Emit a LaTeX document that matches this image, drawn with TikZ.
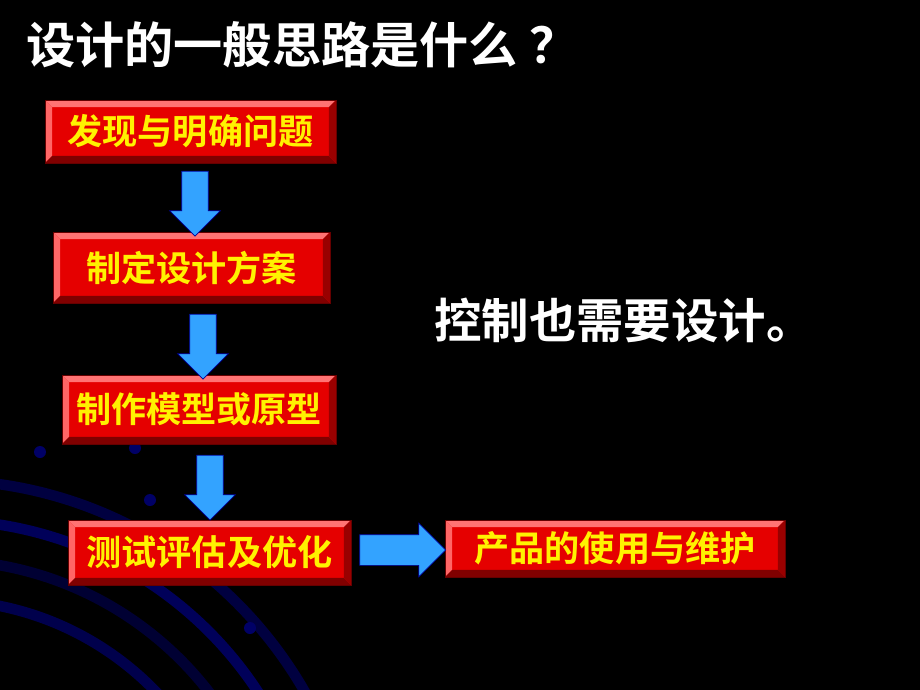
\documentclass[tikz,border=0pt]{standalone}
\usepackage{fontspec}
\newfontfamily\cjk{Noto Sans CJK SC}[BoldFont={Noto Sans CJK SC Bold}]
\usetikzlibrary{shapes.arrows, positioning}

\begin{document}
\begin{tikzpicture}[x=0.02cm, y=-0.02cm]
        \tikzset{
            bevelbox/.style = {rectangle, fill=red!90!black, draw=red!40!black, text=yellow,
                font=\cjk\bfseries\fontsize{20}{24}\selectfont, inner sep=0pt,
                path picture={
                    \fill[red!55!white] (path picture bounding box.north west) -- (path picture bounding box.north east)
                        -- ([shift={(-4pt,-4pt)}]path picture bounding box.north east) -- ([shift={(4pt,-4pt)}]path picture bounding box.north west) -- cycle;
                    \fill[red!60!white] (path picture bounding box.north west) -- (path picture bounding box.south west)
                        -- ([shift={(4pt,4pt)}]path picture bounding box.south west) -- ([shift={(4pt,-4pt)}]path picture bounding box.north west) -- cycle;
                    \fill[red!50!black] (path picture bounding box.south west) -- (path picture bounding box.south east)
                        -- ([shift={(-4pt,4pt)}]path picture bounding box.south east) -- ([shift={(4pt,4pt)}]path picture bounding box.south west) -- cycle;
                    \fill[red!60!black] (path picture bounding box.north east) -- (path picture bounding box.south east)
                        -- ([shift={(-4pt,4pt)}]path picture bounding box.south east) -- ([shift={(-4pt,-4pt)}]path picture bounding box.north east) -- cycle;
                }},
            flow/.style = {single arrow, fill=blue!45!cyan!80!white, draw=blue!60!black,
                single arrow head extend=0.24cm, inner xsep=0pt, inner ysep=0.26cm, single arrow head indent=0pt}
        }
        \fill[black] (0,0) rectangle (920,690);
        \useasboundingbox (0,0) rectangle (920,690);

        % background arcs
        \foreach \r/\c in {420/blue!25!black, 380/blue!35!black, 340/blue!20!black, 300/blue!30!black}
            \draw[\c, line width=6pt] (-60,900) circle[radius=\r];
        \foreach \p in {(40,452), (135,448), (150,500), (95,560), (250,628)}
            \fill[blue!40!black] \p circle[radius=6];

        \node[anchor=west, text=white, font=\cjk\bfseries\fontsize{28}{32}\selectfont] (title) at (20,45) {设计的一般思路是什么 ？};

        \node[bevelbox, minimum width=291*0.02cm, minimum height=63*0.02cm] (find) at (190.5,131.5) {发现与明确问题};
        \node[bevelbox, minimum width=277*0.02cm, minimum height=71*0.02cm] (plan) at (191.5,267.5) {制定设计方案};
        \node[bevelbox, minimum width=274*0.02cm, minimum height=69*0.02cm] (make) at (199,409.5) {制作模型或原型};
        \node[bevelbox, minimum width=283*0.02cm, minimum height=65*0.02cm] (test) at (209.5,552.5) {测试评估及优化};
        \node[bevelbox, minimum width=340*0.02cm, minimum height=57*0.02cm] (use) at (615,548.5) {产品的使用与维护};

        \node[text=white, font=\cjk\bfseries\fontsize{27}{30}\selectfont, anchor=west] (note) at (428,320) {控制也需要设计。};

        \node[flow, rotate=-90, minimum height=1.3cm] (a1) at (195,197) {};
        \node[flow, rotate=-90, minimum height=1.3cm] (a2) at (203,340) {};
        \node[flow, rotate=-90, minimum height=1.3cm] (a3) at (210,481) {};
        \node[flow, minimum height=1.72cm, inner ysep=0.3cm, single arrow head extend=0.23cm] (a4) at (395,550) {};
\end{tikzpicture}
\end{document}
